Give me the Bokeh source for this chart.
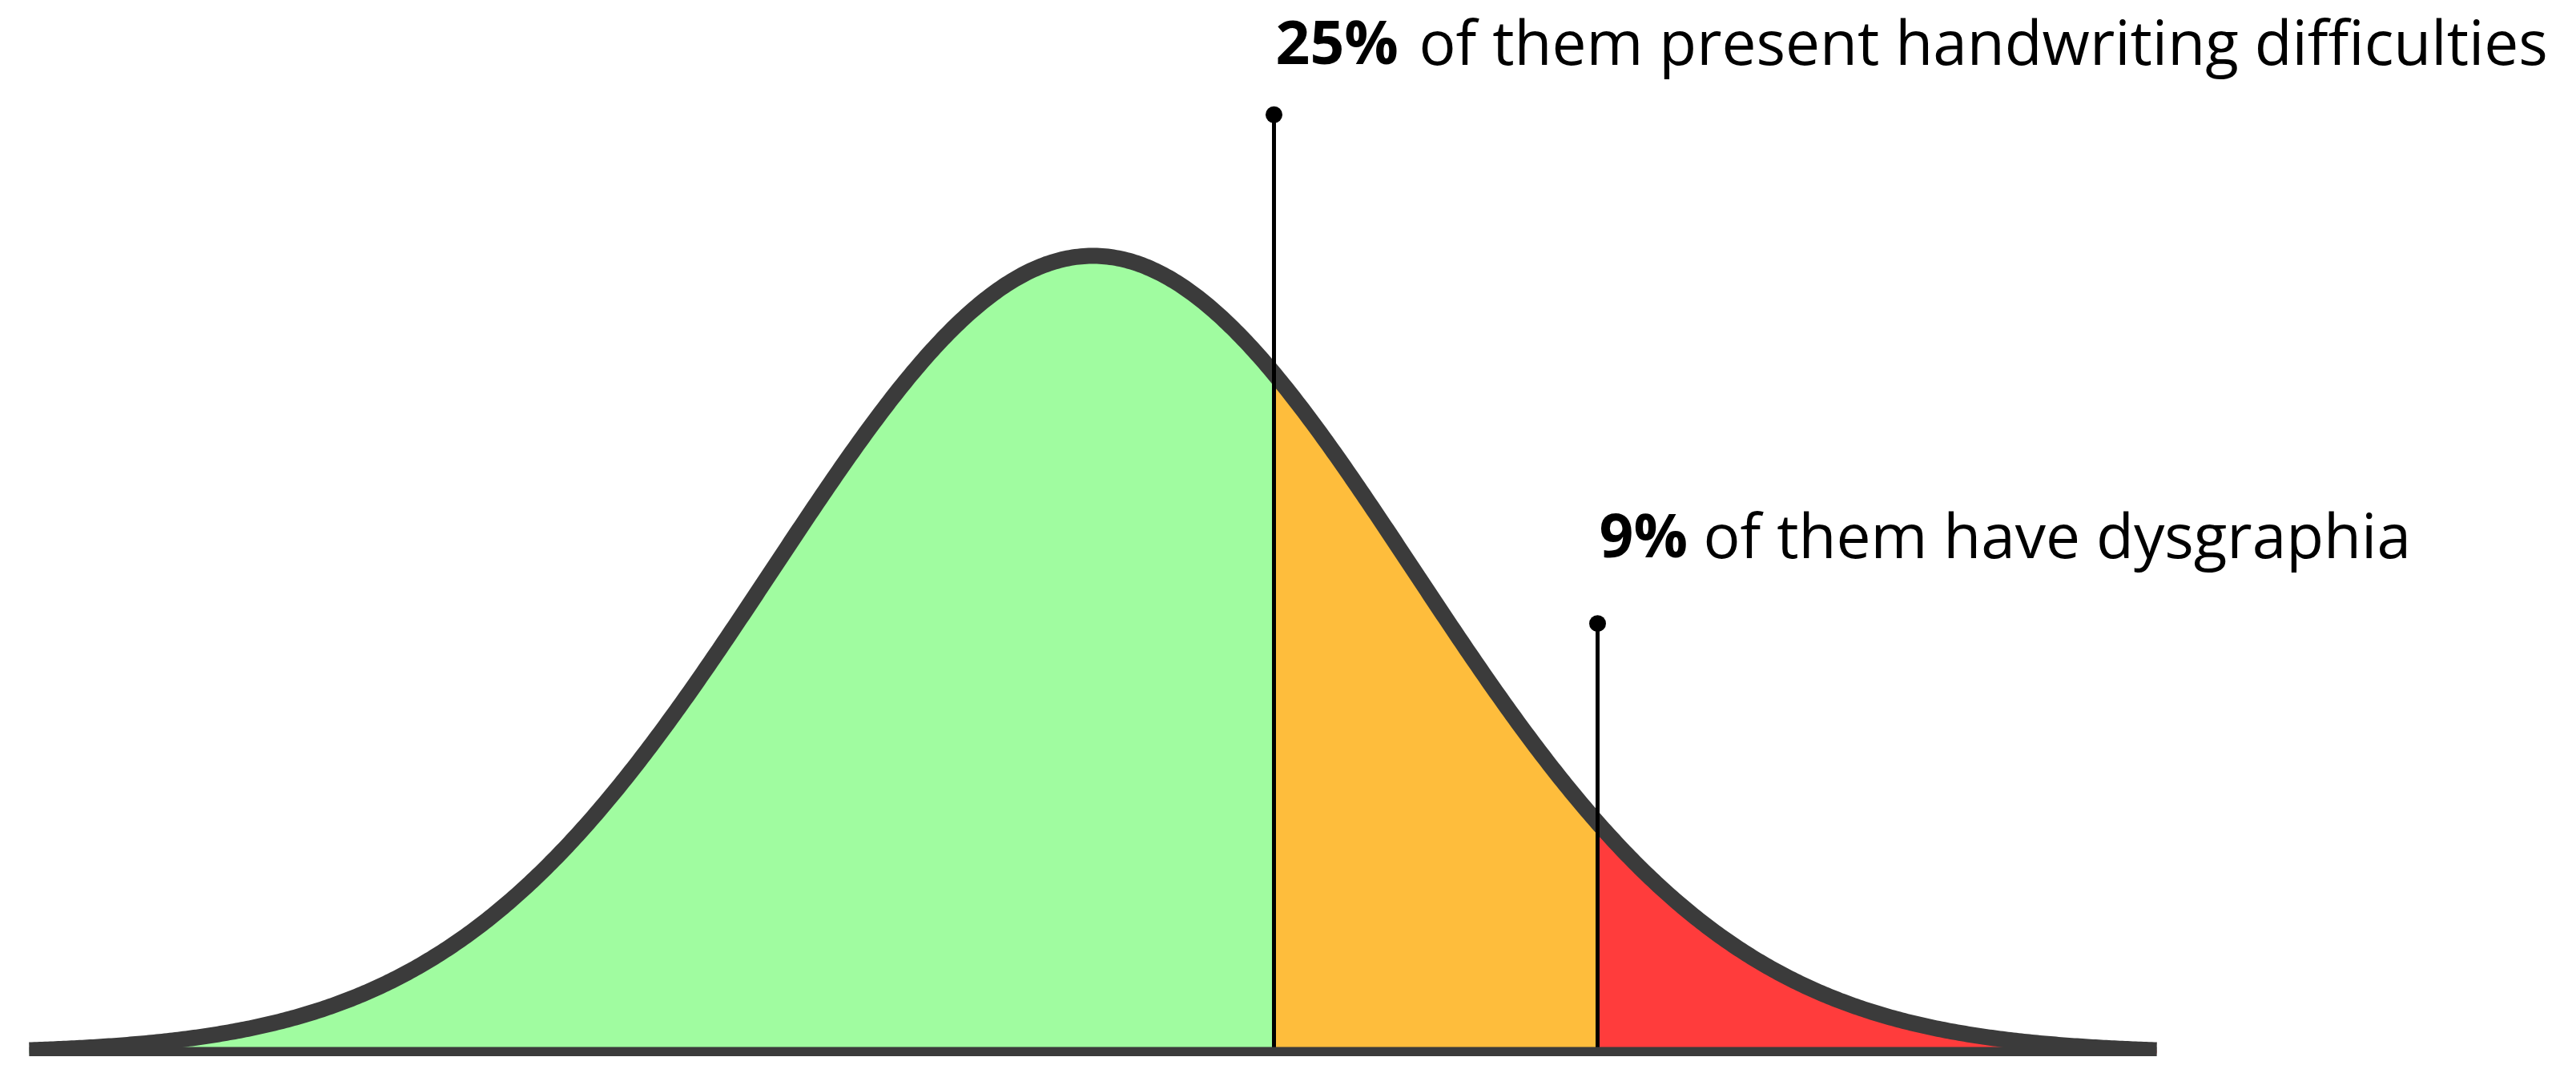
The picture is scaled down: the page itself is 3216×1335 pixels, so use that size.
import numpy as np
from bokeh.plotting import figure
from bokeh.models import Range1d, ColumnDataSource
from bokeh.core.properties import value
from bokeh.embed import file_html
from bokeh.resources import INLINE

# ---- data ----
dist_mean = 0.0          # centre of the bell curve (in SD units)
dist_sd = 1.0
curve_extent = [-3.32, 3.32]          # where the drawn curve / baseline start and end
thresholds = [0.565, 1.575]           # cut points (SD units) of the two callouts
bold_labels = ["25%", "9%"]
rest_labels = ["of them present handwriting difficulties", "of them have dysgraphia"]
segment_colors = ["#A0FCA0", "#FEBD3C", "#FF3C3C"]   # normal / difficulties / dysgraphia
callout_dot_heights = [1.177, 0.539]  # relative to peak height = 1
callout_text_heights = [1.270, 0.651]

# ---- curve ----
xs = np.linspace(curve_extent[0], curve_extent[1], 800)
ys = np.exp(-0.5 * ((xs - dist_mean) / dist_sd) ** 2)

p = figure(width=3200, height=1319, output_backend="svg", toolbar_location=None,
           x_range=Range1d(-3.41, 4.59), y_range=Range1d(-0.004, 1.3203),
           min_border=0, outline_line_color=None, background_fill_color="white")
p.xaxis.visible = False
p.yaxis.visible = False
p.grid.visible = False

edges = [curve_extent[0]] + thresholds + [curve_extent[1]]
for i, col in enumerate(segment_colors):
    m = (xs >= edges[i]) & (xs <= edges[i + 1])
    sx = np.concatenate([[edges[i]], xs[m], [edges[i + 1]]])
    sy = np.exp(-0.5 * ((sx - dist_mean) / dist_sd) ** 2)
    p.varea(x=sx, y1=np.zeros_like(sx), y2=sy, fill_color=col)

p.line(xs, ys, line_color="#3B3B3B", line_width=20, line_join="round")

# callout lines
src = ColumnDataSource(dict(x=thresholds, y=callout_dot_heights, zero=[0, 0],
                            ty=callout_text_heights, b=bold_labels, r=rest_labels))
p.segment(x0="x", y0="zero", x1="x", y1="y", source=src, line_color="black", line_width=5)

# baseline
p.line(curve_extent, [0, 0], line_color="#3B3B3B", line_width=16, line_cap="butt")

p.scatter(x="x", y="y", source=src, size=21, fill_color="black", line_color=None)

p.text(x="x", y="ty", text="b", source=src, x_offset=2, text_font=value("Open Sans"),
       text_font_style="bold", text_font_size="75px", text_baseline="alphabetic",
       text_color="black")
for xv, yv, t, off in zip(thresholds, callout_text_heights, rest_labels, [181, 132]):
    p.text(x=[xv], y=[yv], text=[t], x_offset=off, text_font=value("Open Sans"),
           text_font_size="76.6px", text_baseline="alphabetic", text_color="black")

open("out.html", "w").write(file_html(p, INLINE))
